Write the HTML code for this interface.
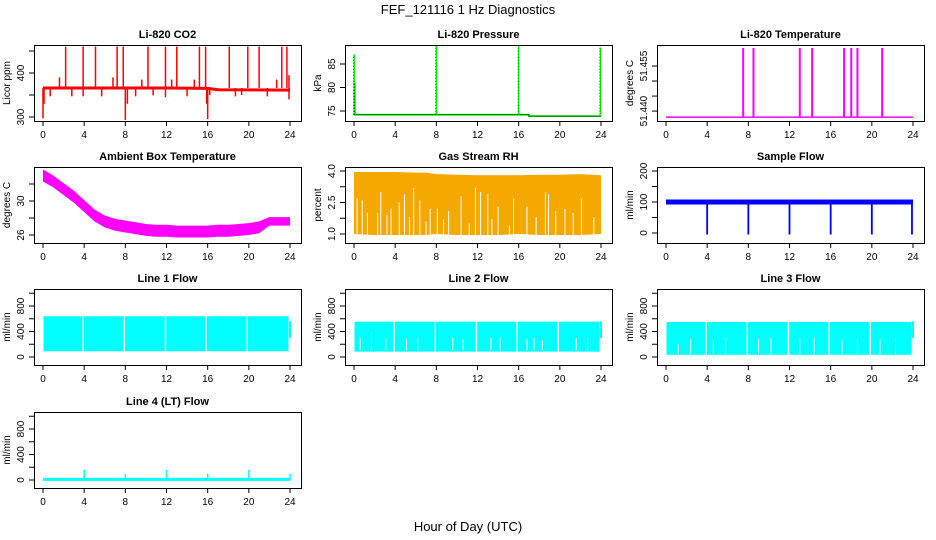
<!DOCTYPE html>
<html><head><meta charset="utf-8"><style>
body{margin:0;background:#fff}
svg{display:block}
text{font-family:"Liberation Sans",Arial,sans-serif;fill:#000}
.tk{font-size:10px}
.tt{font-size:11px;font-weight:bold}
</style></head><body>
<svg id="c" width="936" height="540" viewBox="0 0 936 540">
<text x="468" y="14" text-anchor="middle" style="font-size:13px">FEF_121116  1 Hz Diagnostics</text>
<text x="468" y="531" text-anchor="middle" style="font-size:13px">Hour of Day (UTC)</text>
</svg>
<script>
const xTicks=[0,4,8,12,16,20,24];
// CO2
const co2BaseHours=[0,4,8,12,16,17,24];
const co2BaseVals=[366,366,366,366,365,362,361];
const co2SpikeHours=[1.6,2.2,3.9,5.1,6.8,7.2,7.8,9.6,10.2,11.9,12.5,13.0,14.7,15.2,15.8,18.1,19.9,21.0,22.7,23.2,23.7,23.9];
const co2SpikeVals=[390,460,460,460,390,460,460,385,460,460,385,460,385,460,460,460,460,460,385,460,460,395];
const co2DipHours=[0.0,0.1,0.7,2.8,3.9,5.7,8.0,8.2,9.0,10.7,11.9,14.0,15.9,16.0,16.2,18.7,19.3,21.8,23.9];
const co2DipVals=[297,330,347,347,347,347,293,330,347,349,345,347,330,295,350,347,350,347,340];
// Pressure
const presBaseHours=[0,17,17,24];
const presBaseVals=[74.2,74.2,73.9,73.9];
const presSpikeHours=[0.02,0.1,8.0,16.0,23.95];
const presSpikeVals=[87,81,89,89,88.5];
// Li-820 temperature
const tempBase=51.438;
const tempSpikeHours=[7.5,8.5,13.0,14.2,17.3,18.0,18.6,21.0];
const tempSpikeVals=[51.461,51.461,51.461,51.461,51.461,51.461,51.461,51.461];
// Ambient
const ambHours=[0,1,2,3,4,5,6,7,8,9,10,11,12,13,14,15,16,17,18,19,20,21,22,23,24];
const ambVals=[33.0,32.3,31.4,30.5,29.4,28.3,27.6,27.2,27.0,26.8,26.6,26.5,26.5,26.4,26.4,26.4,26.4,26.5,26.5,26.6,26.7,26.9,27.6,27.6,27.6];
const ambHalf=[0.7,0.7,0.7,0.7,0.7,0.7,0.7,0.7,0.7,0.7,0.7,0.7,0.7,0.7,0.7,0.7,0.7,0.7,0.7,0.7,0.7,0.7,0.5,0.5,0.5];
// RH
const rhHours=[0,2,4,6,7,8,10,12,14,16,18,20,22,24];
const rhTop=[3.95,3.95,3.95,3.92,3.92,3.85,3.82,3.8,3.8,3.8,3.82,3.82,3.85,3.8];
const rhBottom=[1.0,0.95,0.95,0.95,0.95,1.0,0.95,0.95,0.95,1.0,0.95,0.95,0.95,1.0];
const rhGapHours=[0.3,0.8,1.3,2.3,2.6,3.2,3.6,4.4,4.9,5.4,5.8,6.4,7.0,7.4,8.1,8.7,9.2,10.4,11.2,11.8,12.3,13.0,13.4,14.0,15.1,15.5,16.8,17.7,18.6,18.9,19.6,20.5,21.3,22.1,23.3];
const rhGapTops=[2.7,2.6,2.0,2.0,3.0,1.9,2.2,2.5,2.9,1.8,3.2,2.6,1.6,2.2,2.2,1.7,2.1,2.8,1.5,3.2,3.0,2.9,1.7,2.3,1.4,2.7,2.3,1.8,3.0,2.9,2.1,2.2,2.0,2.7,1.8];
// Sample flow
const sfLow=92, sfHigh=108;
const sfDipHours=[4,8,12,16,20,23.9];
const sfDipVals=[-5,-5,-5,-5,-5,-5];
// Line flows
const lineGapHours=[3.9,7.9,11.9,15.85,19.85];
const line1Low=90, line1High=640;
const line2Low=85, line2High=555;
const line2StripeHours=[0.6,1.7,3.1,5.1,6.2,9.6,10.6,13.3,14.2,16.8,17.5,18.3,21.6,22.7];
const line2StripeTops=[300,380,300,280,300,300,280,300,300,280,300,260,300,300];
const line3Low=35, line3High=550;
const line3StripeHours=[1.2,2.4,4.6,5.8,9.0,10.2,13.0,14.4,17.1,18.6,20.8,22.3];
const line3StripeTops=[200,280,260,300,280,300,290,300,260,300,280,300];
const line4Base=10;
const line4SpikeHours=[4,8,12,16,20,24];
const line4SpikeVals=[160,100,160,100,160,100];

const NS="http://www.w3.org/2000/svg";
const svg=document.getElementById('c');
const COLS=[34,345,657], ROWS=[45,167,289,412], W=267, H=76;
function mk(tag,attrs,parent){const e=document.createElementNS(NS,tag);for(const k in attrs)e.setAttribute(k,attrs[k]);(parent||svg).appendChild(e);return e;}
function panel(col,row,title,ylab,top,bot,yticks,ylabels,name){
  const L=COLS[col],T=ROWS[row];
  const g=mk('g',{});
  
  
  const P={g,L,T,x:h=>L+9+h*247/24,y:v=>T+(top-v)/(top-bot)*H};
  const t=mk('text',{x:L+W/2,y:T-7,'text-anchor':'middle',class:'tt'},g);t.textContent=title;
  
  
  const yl=mk('text',{x:0,y:0,'text-anchor':'middle',class:'tk',transform:`translate(${L-24},${T+H/2}) rotate(-90)`},g);yl.textContent=ylab;
  
  
  P.plot=mk('g',{},g);
  const ax=mk('g',{stroke:'#000','stroke-width':1,fill:'none'},g);
  mk('rect',{x:L+.5,y:T+.5,width:W,height:H},ax);
  xTicks.forEach(h=>{const x=P.x(h);mk('line',{x1:x,x2:x,y1:T+H,y2:T+H+5},ax);
    const tx=mk('text',{x:x,y:T+H+17,'text-anchor':'middle',class:'tk',stroke:'none'},g);tx.textContent=h;
    
    });
  yticks.forEach((v,i)=>{const y=P.y(v);mk('line',{x1:L-5,x2:L,y1:y,y2:y},ax);
    if(ylabels[i]){const ty=mk('text',{x:0,y:0,'text-anchor':'middle',class:'tk',transform:`translate(${L-10},${y}) rotate(-90)`},g);ty.textContent=ylabels[i];
    
    }});
  return P;
}
function vline(P,h,v1,v2,col,w){mk('line',{x1:P.x(h),x2:P.x(h),y1:P.y(v1),y2:P.y(v2),stroke:col,'stroke-width':w||1.5},P.plot);}
function poly(P,hs,vs,col,w){mk('polyline',{points:hs.map((h,i)=>P.x(h)+','+P.y(vs[i])).join(' '),fill:'none',stroke:col,'stroke-width':w},P.plot);}
function band(P,hs,lo,hi,fill){const pts=hs.map((h,i)=>P.x(h)+','+P.y(hi[i])).concat(hs.slice().reverse().map((h,j)=>{const i=hs.length-1-j;return P.x(h)+','+P.y(lo[i]);}));mk('polygon',{points:pts.join(' '),fill:fill},P.plot);}

let P=panel(0,0,'Li-820 CO2','Licor ppm',463.6,290.9,[300,350,400,450],['300','','400',''],'co2-panel');
poly(P,co2BaseHours,co2BaseVals,'#f00',3);
co2SpikeHours.forEach((h,i)=>vline(P,h,co2BaseVals[0],co2SpikeVals[i],'#f00',1.5));
co2DipHours.forEach((h,i)=>vline(P,h,co2BaseVals[0],co2DipVals[i],'#f00',1.5));

P=panel(1,0,'Li-820 Pressure','kPa',89.04,72.87,[75,80,85],['75','80','85'],'pressure-panel');
poly(P,presBaseHours,presBaseVals,'#00e000',1.8);
poly(P,presBaseHours,presBaseVals,'#000',0.4);
presSpikeHours.forEach((h,i)=>{vline(P,h,presBaseVals[0],presSpikeVals[i],'#00f000',1.5);
  mk('line',{x1:P.x(h)-.6,x2:P.x(h)-.6,y1:P.y(presBaseVals[0]),y2:P.y(presSpikeVals[i]),stroke:'#000','stroke-width':.6,'stroke-dasharray':'1 2'},P.plot);});

P=panel(2,0,'Li-820 Temperature','degrees C',51.4620,51.4367,[51.440,51.445,51.450,51.455],['51.440','','','51.455'],'li820-temp-panel');
poly(P,[0,24],[tempBase,tempBase],'#f0f',1.5);
tempSpikeHours.forEach((h,i)=>vline(P,h,tempBase,tempSpikeVals[i],'#f0f',2));

P=panel(0,1,'Ambient Box Temperature','degrees C',34.0,25.06,[26,28,30,32],['26','','30',''],'ambient-temp-panel');
band(P,ambHours,ambVals.map((v,i)=>v-ambHalf[i]),ambVals.map((v,i)=>v+ambHalf[i]),'#f0f');

P=panel(1,1,'Gas Stream RH','percent',4.19,0.571,[1.0,1.75,2.5,3.25,4.0],['1.0','','2.5','','4.0'],'rh-panel');
band(P,rhHours,rhBottom,rhTop,'#f4a800');
rhGapHours.forEach((h,i)=>vline(P,h,0.9,rhGapTops[i],'#fff',1));

P=panel(2,1,'Sample Flow','ml/min',212.9,-32.3,[0,50,100,150,200],['0','','100','','200'],'sample-flow-panel');
band(P,[0,24],[sfLow,sfLow],[sfHigh,sfHigh],'#00f');
sfDipHours.forEach((h,i)=>vline(P,h,sfLow,sfDipVals[i],'#00f',1.8));

const fTicks=[0,200,400,600,800,1000], fLabs=['0','','400','','800',''];
function lineFlow(col,row,title,lo,hi,stripesH,stripesT,name){
  const P=panel(col,row,title,'ml/min',1066.7,-125.5,fTicks,fLabs,name);
  band(P,[0.05,23.85],[lo,lo],[hi,hi],'#0ff');
  vline(P,24,300,560,'#0ff',2);
  lineGapHours.forEach(h=>vline(P,h,lo-5,hi+5,'#fff',1.5));
  stripesH.forEach((h,i)=>vline(P,h,lo+20,stripesT[i],'#fff',1));
  return P;
}
lineFlow(0,2,'Line 1 Flow',line1Low,line1High,[],[],'line1-flow-panel');
lineFlow(1,2,'Line 2 Flow',line2Low,line2High,line2StripeHours,line2StripeTops,'line2-flow-panel');
lineFlow(2,2,'Line 3 Flow',line3Low,line3High,line3StripeHours,line3StripeTops,'line3-flow-panel');
P=panel(0,3,'Line 4 (LT) Flow','ml/min',1066.7,-125.5,fTicks,fLabs,'line4-flow-panel');
poly(P,[0,24],[line4Base,line4Base],'#0ff',3);
line4SpikeHours.forEach((h,i)=>vline(P,h,line4Base,line4SpikeVals[i],'#0ff',1.5));
</script>
</body></html>
